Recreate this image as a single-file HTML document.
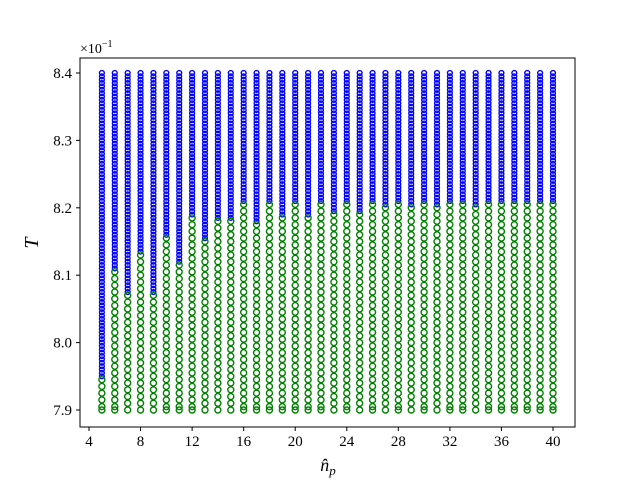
<!DOCTYPE html>
<html><head><meta charset="utf-8"><style>
body{margin:0;background:#fff;}
svg text{font-family:"Liberation Serif",serif;}
</style></head><body>
<svg id="chart" width="640" height="480" xmlns="http://www.w3.org/2000/svg">
<rect width="640" height="480" fill="#fff"/>
<g id="marks"></g>
<rect x="80" y="58" width="495" height="369" fill="none" stroke="#000" stroke-width="1"/>
<g id="axes"></g>
<text x="80" y="53" font-size="14">×10<tspan dy="-6" font-size="10">−1</tspan></text>
<text x="38" y="243" font-size="20" font-style="italic" text-anchor="middle" transform="rotate(-90 38 243)">T</text>
<text x="328" y="471" font-size="18" font-style="italic" text-anchor="middle">n̂<tspan dy="4" font-size="13">p</tspan></text>
</svg>
<script>
const nValues=[5,6,7,8,9,10,11,12,13,14,15,16,17,18,19,20,21,22,23,24,25,26,27,28,29,30,31,32,33,34,35,36,37,38,39,40];
const thresholds=[0.7945,0.8105,0.807,0.813,0.807,0.8155,0.8115,0.8185,0.815,0.818,0.818,0.8205,0.8175,0.8205,0.8185,0.8205,0.8185,0.8205,0.819,0.8205,0.819,0.8205,0.82,0.8205,0.82,0.8205,0.82,0.8205,0.8205,0.82,0.8205,0.8205,0.8205,0.8205,0.8205,0.8205];
const xTicks=[4,8,12,16,20,24,28,32,36,40];
const yTicks=[7.9,8.0,8.1,8.2,8.3,8.4];
const tMin=0.790,tMax=0.840;
const NS="http://www.w3.org/2000/svg";
function xs(n){return 89+(n-4)*(553-89)/36;}
function ys(t){return 410-(t-0.79)*(410-73)/0.05;}
const marks=document.getElementById('marks');
const axes=document.getElementById('axes');
function green(n,t){
  const c=document.createElementNS(NS,'circle');
  
  
  c.setAttribute('cx',xs(n));c.setAttribute('cy',ys(t));c.setAttribute('r',3);
  c.setAttribute('fill','none');c.setAttribute('stroke','#008000');c.setAttribute('stroke-width',1.4);
  marks.appendChild(c);
}
nValues.forEach((n,i)=>{
  const th=thresholds[i];
  for(let k=0;tMin+k*0.0005<=tMax+1e-9;k++){
    const t=tMin+k*0.0005;
    if(t<=th+1e-9) continue;
    const c=document.createElementNS(NS,'circle');
    
    
    c.setAttribute('cx',xs(n));c.setAttribute('cy',ys(t));c.setAttribute('r',2.4);
    c.setAttribute('fill','none');c.setAttribute('stroke','#0000ff');c.setAttribute('stroke-width',1.4);
    marks.appendChild(c);
  }
  let last=th;
  for(let k=0;th-k*0.001>=tMin-1e-9;k++){ last=th-k*0.001; green(n,last); }
  if(last-tMin>1e-6) green(n,tMin);
});
xTicks.forEach(v=>{
  const l=document.createElementNS(NS,'line');
  
  
  l.setAttribute('x1',xs(v));l.setAttribute('x2',xs(v));l.setAttribute('y1',427);l.setAttribute('y2',431);l.setAttribute('stroke','#000');
  axes.appendChild(l);
  const t=document.createElementNS(NS,'text');
  
  
  t.setAttribute('x',xs(v));t.setAttribute('y',446);t.setAttribute('font-size',15);t.setAttribute('text-anchor','middle');
  t.textContent=v;axes.appendChild(t);
});
yTicks.forEach(v=>{
  const y=ys(v/10);
  const l=document.createElementNS(NS,'line');
  
  
  l.setAttribute('x1',76);l.setAttribute('x2',80);l.setAttribute('y1',y);l.setAttribute('y2',y);l.setAttribute('stroke','#000');
  axes.appendChild(l);
  const t=document.createElementNS(NS,'text');
  
  
  t.setAttribute('x',72);t.setAttribute('y',y+5);t.setAttribute('font-size',15);t.setAttribute('text-anchor','end');
  t.textContent=v.toFixed(1);axes.appendChild(t);
});
</script>
</body></html>
